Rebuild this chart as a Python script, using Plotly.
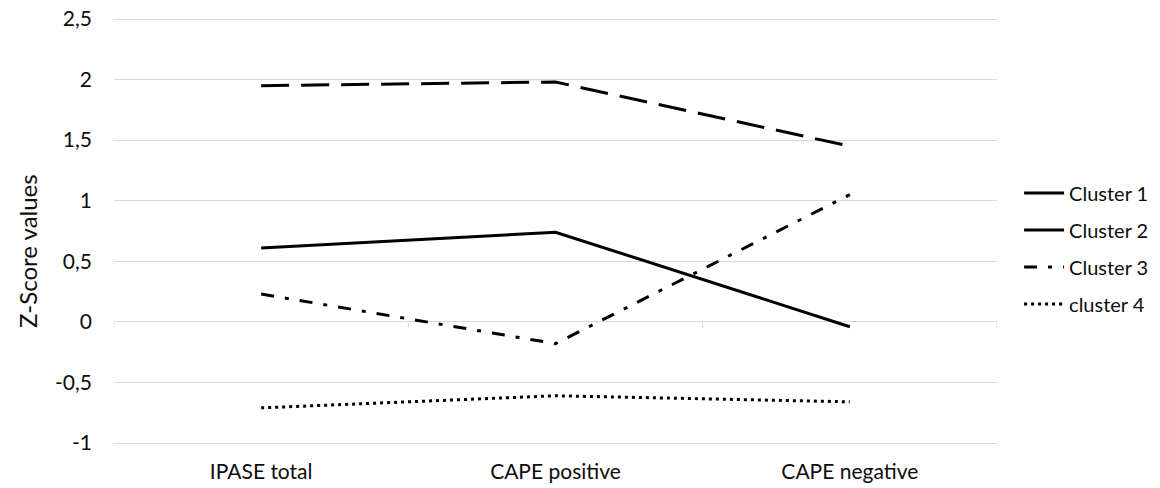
import plotly.graph_objects as go

categories = ["IPASE total", "CAPE positive", "CAPE negative"]
cluster1 = [0.61, 0.74, -0.04]
cluster2 = [1.95, 1.98, 1.45]
cluster3 = [0.23, -0.18, 1.05]
cluster4 = [-0.71, -0.61, -0.66]
series_names = ["Cluster 1", "Cluster 2", "Cluster 3", "cluster 4"]
series_values = [cluster1, cluster2, cluster3, cluster4]
series_dash = ["solid", "28px,12px", "13px,11px,4px,11px", "3px,4px"]
legend_dash = ["solid", "solid", "13px,11px,4px,11px", "3px,4px"]

y_tickvals = [-1, -0.5, 0, 0.5, 1, 1.5, 2, 2.5]
y_ticktext = ["-1", "-0,5", "0", "0,5", "1", "1,5", "2", "2,5"]

FONT = "Lato"
TXT = "#0d0d0d"
GRID = "#d9d9d9"

fig = go.Figure()
for i, (name, vals, dash, ldash) in enumerate(zip(series_names, series_values, series_dash, legend_dash)):
    same = dash == ldash
    fig.add_trace(go.Scatter(
        x=categories, y=vals, mode="lines", name=name,
        legendgroup=f"g{i}", showlegend=same,
        line=dict(color="black", width=3, dash=dash),
    ))
    if not same:
        # legend sample (the reference legend draws this series as a plain line)
        fig.add_trace(go.Scatter(
            x=[None], y=[None], mode="lines", name=name,
            legendgroup=f"g{i}", showlegend=True, hoverinfo="skip",
            line=dict(color="black", width=3, dash=ldash),
        ))

# small tick marks on the category axis line at y = 0
shapes = []
for k in range(len(categories) + 1):
    shapes.append(dict(type="line", xref="x", yref="y", ysizemode="pixel", yanchor=0,
                       x0=k - 0.5, x1=k - 0.5, y0=0, y1=-6,
                       line=dict(color=GRID, width=1)))

# the page body adds an 8px offset, so the figure is 1152x480
fig.update_layout(
    width=1152, height=480,
    margin=dict(l=106, r=163, t=9, b=43, autoexpand=False),
    paper_bgcolor="white", plot_bgcolor="white",
    font=dict(family=FONT, size=21, color=TXT),
    showlegend=True,
    legend=dict(x=1.025, y=0.4591, xanchor="left", yanchor="middle",
                itemwidth=40, tracegroupgap=8, font=dict(size=20, color=TXT),
                bgcolor="rgba(0,0,0,0)"),
    shapes=shapes,
    xaxis=dict(range=[-0.5, 2.5], showgrid=False, zeroline=False, showline=False,
               automargin=False, ticklabeloverflow="allow",
               ticks="", ticklabelstandoff=12, tickfont=dict(size=21, color=TXT)),
    yaxis=dict(range=[-1.0165, 2.5165], tickvals=y_tickvals, ticktext=y_ticktext,
               automargin=False, ticklabeloverflow="allow",
               showgrid=True, gridcolor=GRID, gridwidth=1,
               zeroline=True, zerolinecolor=GRID, zerolinewidth=1,
               showline=False, ticks="", ticklabelstandoff=21,
               tickfont=dict(size=21, color=TXT)),
    annotations=[dict(text="Z-Score values", textangle=-90, xref="paper", yref="paper",
                      x=(28 - 114) / 883, y=0.4533, xanchor="center", yanchor="middle",
                      showarrow=False, font=dict(size=24, color=TXT, family=FONT))],
)

fig.write_html("out.html")
